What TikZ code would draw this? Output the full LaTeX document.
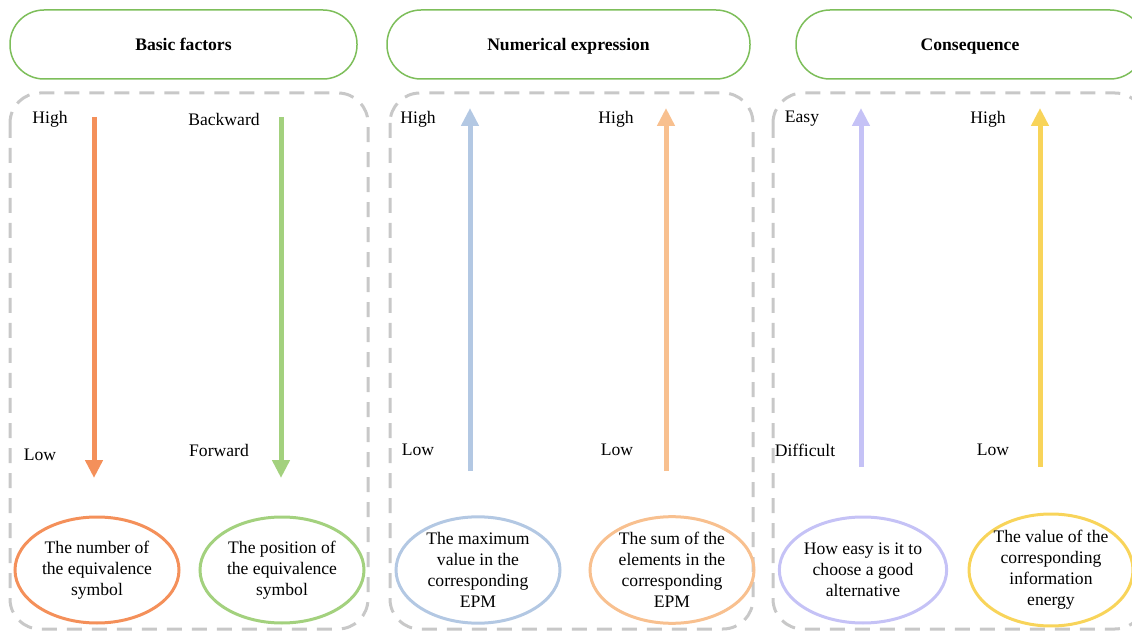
\documentclass[tikz,border=0pt]{standalone}
\usepackage{fontspec}
\setmainfont{Liberation Serif}[BoldFont={Liberation Serif Bold}]
\usetikzlibrary{shapes.geometric,arrows.meta}
\definecolor{boxgreen}{HTML}{7DBE5A}
\definecolor{dashgray}{HTML}{C8C8C8}
\definecolor{cOrange}{HTML}{F4905A}
\definecolor{cGreen}{HTML}{A3D17E}
\definecolor{cBlue}{HTML}{B3C8E3}
\definecolor{cPeach}{HTML}{F8C08F}
\definecolor{cLilac}{HTML}{C5C2F6}
\definecolor{cYellow}{HTML}{F8D45A}
\tikzset{
  txt/.style={font=\rmfamily\fontsize{8.8}{10.5}\selectfont},
  headbox/.style={draw=boxgreen, line width=0.75pt, rounded corners=17pt,
    minimum height=34.5pt, text height=1.6ex, text depth=0.4ex,
    font=\rmfamily\fontsize{8.8}{10.5}\selectfont\bfseries},
  dashbox/.style={draw=dashgray, line width=1.5pt, dash pattern=on 7.5pt off 5pt,
    rounded corners=15pt},
  trend/.style={line width=2.5pt, -{Triangle[length=9pt,width=8.5pt]}},
  factor/.style={ellipse, draw, line width=1.5pt, minimum width=82pt,
    minimum height=53pt, inner sep=0pt, align=center, txt}
}
\begin{document}
\begin{tikzpicture}[x=0.5pt,y=-0.5pt]
  \useasboundingbox (0,0) rectangle (1132,631);

  \node[headbox, minimum width=173.5pt] (basic) at (183.5,44.5) {Basic factors};
  \node[headbox, minimum width=181.5pt] (numer) at (568.5,44.5) {Numerical expression};
  \node[headbox, minimum width=174pt]   (conse) at (970,44.5)   {Consequence};

  \draw[dashbox] (10,93) rectangle (368,629);
  \draw[dashbox] (390,93) rectangle (753,629);
  \draw[dashbox] (773,93) rectangle (1145,629);

  \node[txt] (h1) at (50,119)   {High};
  \node[txt] (l1) at (40,455)   {Low};
  \node[txt] (h2) at (224,119)  {Backward};
  \node[txt] (l2) at (219,450)  {Forward};
  \node[txt] (h3) at (418,119)  {High};
  \node[txt] (l3) at (418,450)  {Low};
  \node[txt] (h4) at (616,119)  {High};
  \node[txt] (l4) at (617,450)  {Low};
  \node[txt] (h5) at (802,119)  {Easy};
  \node[txt] (l5) at (805,450)  {Difficult};
  \node[txt] (h6) at (988,119)  {High};
  \node[txt] (l6) at (993,450)  {Low};

  \coordinate (a1top) at (94,117);   \coordinate (a1bot) at (94,478);
  \coordinate (a2top) at (281,117);  \coordinate (a2bot) at (281,478);
  \coordinate (a3top) at (470,108);  \coordinate (a3bot) at (470,471);
  \coordinate (a4top) at (666,108);  \coordinate (a4bot) at (666,471);
  \coordinate (a5top) at (861,108);  \coordinate (a5bot) at (861,467);
  \coordinate (a6top) at (1040,108); \coordinate (a6bot) at (1040,467);

  \draw[trend, cOrange] (a1top) -- (a1bot);
  \draw[trend, cGreen]  (a2top) -- (a2bot);
  \draw[trend, cBlue]   (a3bot) -- (a3top);
  \draw[trend, cPeach]  (a4bot) -- (a4top);
  \draw[trend, cLilac]  (a5bot) -- (a5top);
  \draw[trend, cYellow] (a6bot) -- (a6top);

  \node[factor, draw=cOrange] (number)   at (97,570)   {The number of\\the equivalence\\symbol};
  \node[factor, draw=cGreen]  (position) at (282,570)  {The position of\\the equivalence\\symbol};
  \node[factor, draw=cBlue]   (maxval)   at (478,570)  {The maximum\\value in the\\corresponding\\EPM};
  \node[factor, draw=cPeach]  (sumval)   at (672,570)  {The sum of the\\elements in the\\corresponding\\EPM};
  \node[factor, draw=cLilac]  (easy)     at (863,570)  {How easy is it to\\choose a good\\alternative};
  \node[factor, draw=cYellow] (energy)   at (1051,570) {The value of the\\corresponding\\information\\energy};
\end{tikzpicture}
\end{document}
